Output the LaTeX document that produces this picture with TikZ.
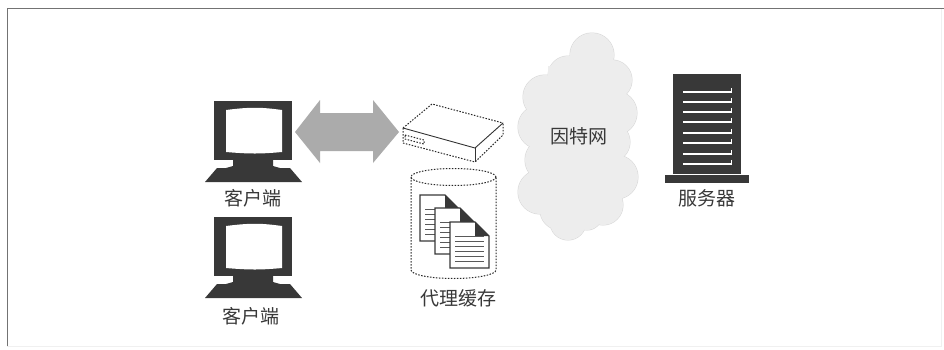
\documentclass[tikz,border=0pt]{standalone}
\usepackage{fontspec}
\newfontfamily\cjk{Noto Sans CJK SC}
\tikzset{
  dark/.style={fill=black!78,draw=none},
  label/.style={font=\cjk\fontsize{19}{19}\selectfont,text=black!78,inner sep=0pt},
  dots/.style={draw=black!85,line width=1pt,dash pattern=on 1.5pt off 1.5pt},
  sheet/.style={draw=black!78,fill=white,line width=1.2pt},
  bump/.style={fill=black!7,draw=none},
  bumpedge/.style={draw=black!16,line width=1pt}
}
\newcommand{\monitor}[2]{%
  \begin{scope}[shift={(#1,#2)}]
    \fill[dark] (214,101) rectangle (292,160);
    \fill[white] (226,110) .. controls (250,107) and (260,107) .. (282,110) -- (282,152) .. controls (260,154) and (250,154) .. (226,152) -- cycle;
    \fill[dark] (233,160) -- (273,160) -- (273,166) -- (280,168) -- (290,168) -- (302,182) -- (205,182) -- (217,168) -- (226,168) -- (233,166) -- cycle;
  \end{scope}}
\newcommand{\docsheet}[2]{%
  \begin{scope}[shift={(#1,#2)}]
    \draw[sheet] (0,0) -- (25,0) -- (39,14) -- (39,46) -- (0,46) -- cycle;
    \fill[black!78] (25,0) -- (39,14) -- (25,14) -- cycle;
    \foreach \yy in {14,19,24,29,34,39} \draw[black!65,line width=0.9pt] (5,\yy) -- (34,\yy);
  \end{scope}}
\begin{document}
\begin{tikzpicture}[x=1pt,y=-1pt]
\useasboundingbox (0,0) rectangle (944,349);
\fill[white] (0,0) rectangle (944,349);
% frame
\draw[black!6,line width=0.8pt] (7,346) -- (941,346) -- (941,8);
\draw[black!55,line width=1pt] (7,346) -- (7,8) -- (944,8);
% cloud
\foreach \cx/\cy/\r in {592/55/22,568/76/20,612/80/20,545/97/22,615/113/22,540/127/22,610/142/20,547/160/22,616/177/22,540/192/22,603/205/20,560/210/20,568/222/18,587/215/15}
  \draw[bumpedge] (\cx,\cy) circle[radius=\r];
\foreach \cx/\cy/\r in {592/55/22,568/76/20,612/80/20,545/97/22,615/113/22,540/127/22,610/142/20,547/160/22,616/177/22,540/192/22,603/205/20,560/210/20,568/222/18,587/215/15}
  \fill[bump] (\cx,\cy) circle[radius=\r];
\fill[bump] (548,66) rectangle (608,212);
\node[label] (net) at (579,136) {因特网};
% clients
\monitor{0}{0}
\monitor{0}{116}
\node[label] (c1) at (253,198) {客户端};
\node[label] (c2) at (251,316) {客户端};
% double arrow
\fill[black!33] (295,132) -- (320,100) -- (320,113) -- (373,113) -- (373,100) -- (399,132) -- (373,163) -- (373,151) -- (320,151) -- (320,163) -- cycle;
% proxy box
\draw[dots] (403,128) -- (432,104) -- (503,123);
\draw[dots] (403,128) -- (403,143) -- (475,162) -- (503,135) -- (503,123);
\draw[dots] (405,135) -- (424,140) -- (424,144) -- (405,139) -- cycle;
\draw[black!80,line width=0.9pt] (403,128) -- (475,148) -- (503,123);
\draw[black!80,line width=0.9pt] (475,148) -- (475,162);
% cache cylinder
\draw[dots] (453.5,177) ellipse[x radius=42.5,y radius=8.5];
\draw[dots] (411,177) -- (411,270) arc[start angle=180,end angle=0,x radius=42.5,y radius=8.5] -- (496,177);
\docsheet{420}{195}
\docsheet{435}{208}
\docsheet{450}{222}
\node[label] (cache) at (458,298) {代理缓存};
% server
\fill[dark] (673,74) rectangle (741,174);
\fill[dark] (665,175) rectangle (749,183);
\foreach \yy in {92,102,112,122,133,143,154,164} {
  \draw[white,line width=2.2pt] (683,\yy) -- (731,\yy);
  \draw[white,line width=1.2pt] (731.5,\yy+1) -- (731.5,\yy-4);
}
\node[label] (srv) at (707,198) {服务器};
\end{tikzpicture}
\end{document}
